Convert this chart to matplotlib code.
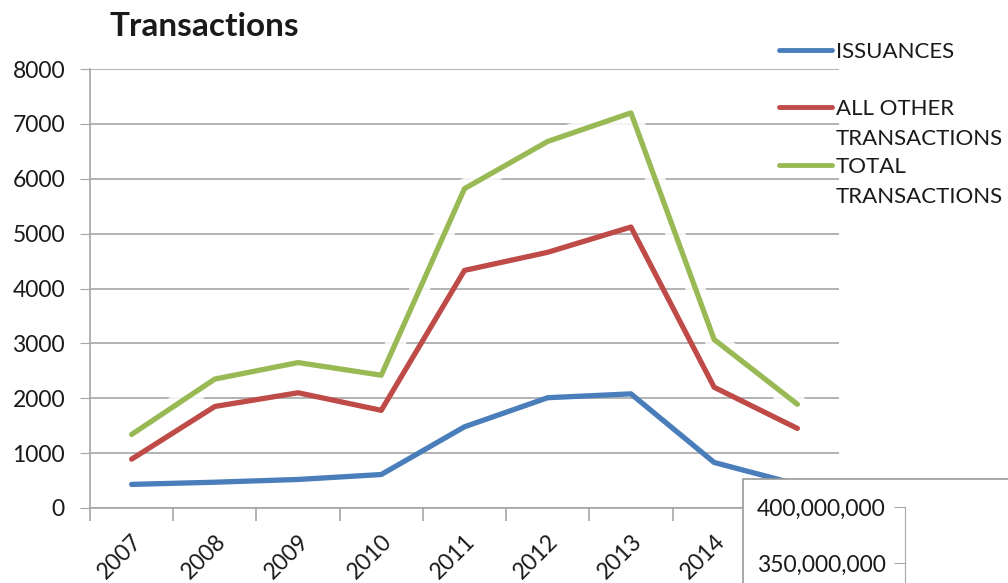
import matplotlib
matplotlib.use("Agg")
import matplotlib.pyplot as plt
import matplotlib.patheffects as pe
from matplotlib.patches import Rectangle
from matplotlib.lines import Line2D
from matplotlib.ticker import FuncFormatter

years = ["2007", "2008", "2009", "2010", "2011", "2012", "2013", "2014", "2015"]
issuances = [430, 470, 520, 610, 1480, 2010, 2080, 830, 430]
all_other = [890, 1850, 2100, 1780, 4330, 4660, 5120, 2200, 1450]
total = [1340, 2350, 2650, 2420, 5820, 6680, 7200, 3070, 1890]
series_names = [["ISSUANCES"], ["ALL OTHER", "TRANSACTIONS"], ["TOTAL", "TRANSACTIONS"]]
colors = ["#4a7ebb", "#be4b48", "#98b954"]
yticks = [0, 1000, 2000, 3000, 4000, 5000, 6000, 7000, 8000]
inset_ticks = [350_000_000, 400_000_000]

plt.rcParams['font.family'] = ['Lato', 'DejaVu Sans']
W, H = 1008, 583
fig = plt.figure(figsize=(W / 100, H / 100), dpi=100)
ax = fig.add_axes([90 / W, 1 - 508 / H, (839 - 90) / W, (508 - 69) / H])

x = [i + 0.5 for i in range(len(years))]
grid_c = "#a6a6a6"
txt_c = "#1a1a1a"
ax.set_xlim(0, len(years))
ax.set_ylim(0, 8000)
ax.set_yticks(yticks)
ax.yaxis.grid(True, color=grid_c, linewidth=1.2)
ax.set_axisbelow(True)
for s in ["top", "right"]:
    ax.spines[s].set_visible(False)
for s in ["left", "bottom"]:
    ax.spines[s].set_color(grid_c)
    ax.spines[s].set_linewidth(1.2)
ax.tick_params(axis='y', length=7, color=grid_c, labelsize=16.5, labelcolor=txt_c, pad=11)
ax.set_xticks(x)
ax.set_xticklabels(years, rotation=45, ha='right', rotation_mode='anchor', fontsize=16.5, color=txt_c)
ax.tick_params(axis='x', length=0, pad=16)
ax.set_xticks(range(len(years) + 1), minor=True)
ax.tick_params(axis='x', which='minor', length=9, color=grid_c, width=1.2)

lw = 3.8
ax.plot(x, issuances, color=colors[0], lw=lw, solid_capstyle='round', zorder=3)
ax.plot(x, all_other, color=colors[1], lw=lw, solid_capstyle='round', zorder=3)
ax.plot(x, total, color=colors[2], lw=lw, solid_capstyle='round', zorder=4,
        path_effects=[pe.Stroke(linewidth=14, foreground='white', alpha=0.85), pe.Normal()])

fig.text(110 / W, 1 - 27 / H, "Transactions", fontsize=24, fontweight='bold', va='center', ha='left', color=txt_c)

# legend (manual)
leg_y = [50, 107, 165]
for c, lines, yy in zip(colors, series_names, leg_y):
    fig.lines.append(Line2D([779 / W, 832 / W], [1 - yy / H, 1 - yy / H], color=c, lw=3.5,
                            solid_capstyle='round', transform=fig.transFigure))
    for k, line in enumerate(lines):
        fig.text(836 / W, 1 - (yy + 2 + 30 * k) / H, line, fontsize=16, va='center', ha='left',
                 color=txt_c)

# overlapping box of another chart
fig.patches.append(Rectangle((743 / W, -0.1), 0.5, 0.1 + 1 - 479 / H, transform=fig.transFigure,
                             facecolor='white', edgecolor='#9a9a9a', lw=1.2, zorder=5))
iax = fig.add_axes([905 / W, 0, 0.2, (583 - 507) / H], zorder=6)
iax.patch.set_visible(False)
iax.set_ylim(400_000_000 - (583 - 507) / 56 * 50_000_000, 400_000_000)
iax.set_yticks(inset_ticks)
iax.yaxis.set_major_formatter(FuncFormatter(lambda v, p: f"{int(v):,}"))
iax.set_xticks([])
for s in ["top", "right", "bottom"]:
    iax.spines[s].set_visible(False)
iax.spines["left"].set_color(grid_c)
iax.tick_params(axis='y', length=8, color=grid_c, labelsize=16.5, labelcolor=txt_c, pad=6)

fig.savefig("out.png", dpi=100)
